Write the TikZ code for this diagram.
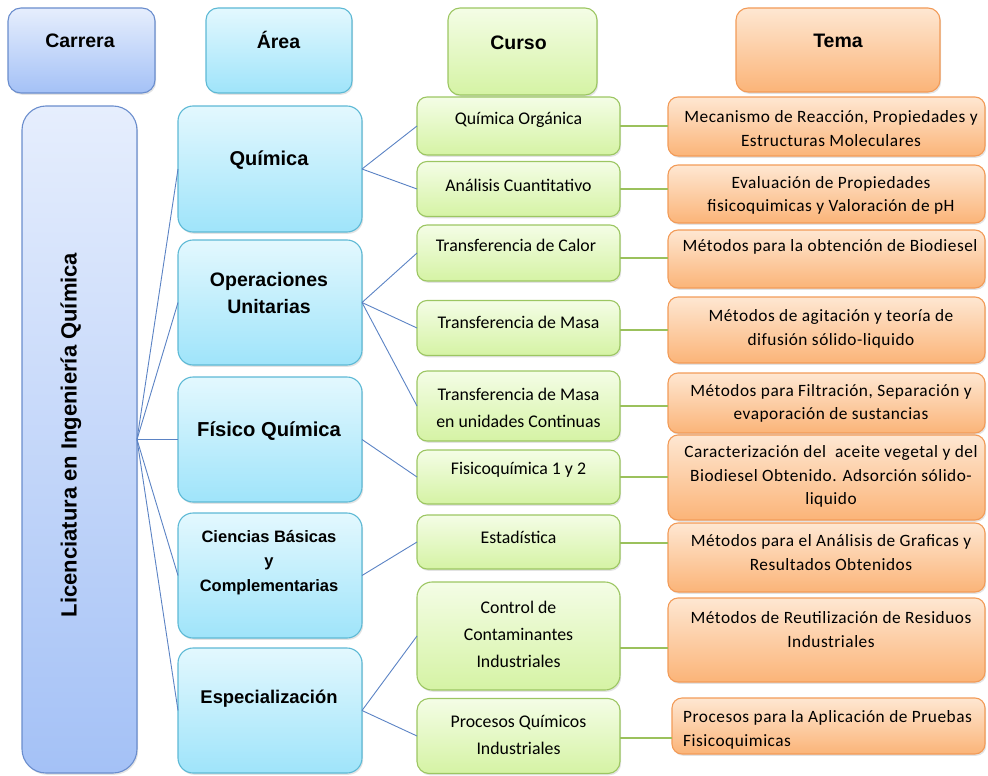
\documentclass[tikz,border=0pt]{standalone}
\usepackage{fontspec}
\setmainfont{Liberation Sans}
\newfontfamily\curfont{Carlito}
\newfontfamily\temfont[LetterSpace=3]{Carlito}
\usetikzlibrary{shadows}
\definecolor{bluetop}{HTML}{E6EEFD}
\definecolor{bluebot}{HTML}{A4C1F6}
\definecolor{blueline}{HTML}{6A8DCD}
\definecolor{cyantop}{HTML}{E3F8FE}
\definecolor{cyanbot}{HTML}{9FE4FA}
\definecolor{cyanline}{HTML}{5DB9D5}
\definecolor{greentop}{HTML}{F4FDE6}
\definecolor{greenbot}{HTML}{D5F3A4}
\definecolor{greenline}{HTML}{9CC662}
\definecolor{orangetop}{HTML}{FEE7D2}
\definecolor{orangebot}{HTML}{FBB478}
\definecolor{orangeline}{HTML}{F29B58}
\definecolor{conblue}{HTML}{5B83C4}
\definecolor{congreen}{HTML}{9BC15C}
\begin{document}
\begin{tikzpicture}[x=1pt,y=-1pt,
  basebox/.style={draw, line width=1.1pt, inner sep=0pt, outer sep=0pt,
    drop shadow={opacity=0.22, shadow xshift=1.2pt, shadow yshift=-1.8pt}},
  bluebox/.style={basebox, rounded corners=13pt, top color=bluetop, bottom color=bluebot, draw=blueline},
  cyanbox/.style={basebox, rounded corners=15pt, top color=cyantop, bottom color=cyanbot, draw=cyanline},
  greenbox/.style={basebox, rounded corners=10pt, top color=greentop, bottom color=greenbot, draw=greenline},
  orangebox/.style={basebox, rounded corners=10pt, top color=orangetop, bottom color=orangebot, draw=orangeline},
  hdrtxt/.style={inner sep=0pt, font=\bfseries\fontsize{19.5}{24}\selectfont},
  areatxt/.style={inner sep=0pt, align=center, font=\bfseries\fontsize{19.5}{27}\selectfont},
  curtxt/.style={inner sep=0pt, align=center, font=\curfont\fontsize{17.8}{27}\selectfont},
  temtxt/.style={inner sep=0pt, align=center, font=\temfont\fontsize{17.3}{23.5}\selectfont},
  bline/.style={draw=conblue, line width=0.9pt},
  gline/.style={draw=congreen, line width=1.6pt}
]
\useasboundingbox (0,0) rectangle (988,776);

% ---------- headers ----------
\node[bluebox, minimum width=147pt, minimum height=85pt] (hC) at (81.5,50.5) {};
\node[cyanbox, rounded corners=12pt, minimum width=146pt, minimum height=85pt] (hA) at (279,50.5) {};
\node[greenbox, rounded corners=12pt, minimum width=149pt, minimum height=87pt] (hCu) at (522.5,51.5) {};
\node[orangebox, rounded corners=12pt, minimum width=204pt, minimum height=84pt] (hT) at (838,50) {};
\node[hdrtxt] (hCt) at (80,41) {Carrera};
\node[hdrtxt] (hAt) at (278.5,40) {Área};
\node[hdrtxt] (hCut) at (518.5,43) {Curso};
\node[hdrtxt] (hTt) at (838,41) {Tema};

% ---------- root ----------
\node[bluebox, rounded corners=24pt, minimum width=115pt, minimum height=667pt] (root) at (79.5,439.5) {};
\node[rotate=90, inner sep=0pt, font=\bfseries\fontsize{22}{26}\selectfont] (roott) at (71,435) {Licenciatura en Ingeniería Química};

% ---------- areas ----------
\node[cyanbox, minimum width=184pt, minimum height=126pt] (a1) at (270,169) {};
\node[cyanbox, minimum width=184pt, minimum height=125pt] (a2) at (270,302.5) {};
\node[cyanbox, minimum width=184pt, minimum height=125pt] (a3) at (270,439.5) {};
\node[cyanbox, minimum width=184pt, minimum height=125pt] (a4) at (270,575.5) {};
\node[cyanbox, minimum width=184pt, minimum height=125pt] (a5) at (270,710.5) {};
\node[areatxt, font=\bfseries\fontsize{20}{27}\selectfont] (a1t) at (269,160) {Química};
\node[areatxt] (a2t) at (269,293.5) {Operaciones\\Unitarias};
\node[areatxt, font=\bfseries\fontsize{20.2}{27}\selectfont] (a3t) at (269,431) {Físico Química};
\node[areatxt, font=\bfseries\fontsize{16.5}{24.5}\selectfont] (a4t) at (269,562.5) {Ciencias Básicas\\y\\Complementarias};
\node[areatxt, font=\bfseries\fontsize{18.4}{27}\selectfont] (a5t) at (269,699) {Especialización};

% ---------- courses ----------
\node[greenbox, minimum width=203pt, minimum height=58pt] (c1) at (518.5,126) {};
\node[greenbox, minimum width=203pt, minimum height=55pt] (c2) at (518.5,189) {};
\node[greenbox, minimum width=203pt, minimum height=56pt] (c3) at (518.5,253) {};
\node[greenbox, minimum width=203pt, minimum height=55pt] (c4) at (518.5,328) {};
\node[greenbox, minimum width=203pt, minimum height=70pt] (c5) at (518.5,406) {};
\node[greenbox, minimum width=203pt, minimum height=54pt] (c6) at (518.5,477) {};
\node[greenbox, minimum width=203pt, minimum height=54pt] (c7) at (518.5,542) {};
\node[greenbox, rounded corners=15pt, minimum width=203pt, minimum height=108pt] (c8) at (518.5,636) {};
\node[greenbox, rounded corners=12pt, minimum width=203pt, minimum height=75pt] (c9) at (518.5,736) {};
\node[curtxt] (c1t) at (518.5,120) {Química Orgánica};
\node[curtxt] (c2t) at (518.5,185) {Análisis Cuantitativo};
\node[curtxt] (c3t) at (516,245) {Transferencia de Calor};
\node[curtxt] (c4t) at (518.5,322) {Transferencia de Masa};
\node[curtxt] (c5t) at (518.5,407.5) {Transferencia de Masa\\en unidades Continuas};
\node[curtxt] (c6t) at (518.5,470) {Fisicoquímica 1 y 2};
\node[curtxt] (c7t) at (518.5,537) {Estadística};
\node[curtxt] (c8t) at (518.5,634) {Control de\\Contaminantes\\Industriales};
\node[curtxt] (c9t) at (518.5,735) {Procesos Químicos\\Industriales};

% ---------- temas ----------
\node[orangebox, minimum width=317pt, minimum height=59pt] (t1) at (826.5,126.5) {};
\node[orangebox, minimum width=317pt, minimum height=58pt] (t2) at (826.5,194) {};
\node[orangebox, minimum width=317pt, minimum height=58pt] (t3) at (826.5,259) {};
\node[orangebox, minimum width=317pt, minimum height=66pt] (t4) at (826.5,330) {};
\node[orangebox, minimum width=317pt, minimum height=60pt] (t5) at (826.5,403) {};
\node[orangebox, minimum width=317pt, minimum height=85pt] (t6) at (826.5,477.5) {};
\node[orangebox, minimum width=317pt, minimum height=69pt] (t7) at (826.5,557.5) {};
\node[orangebox, minimum width=317pt, minimum height=84pt] (t8) at (826.5,640) {};
\node[orangebox, minimum width=313pt, minimum height=56pt] (t9) at (828.5,726) {};
\node[temtxt] (t1t) at (831,128.5) {Mecanismo de Reacción, Propiedades y\\Estructuras Moleculares};
\node[temtxt] (t2t) at (831,195.5) {Evaluación de Propiedades\\fisicoquimicas y Valoración de pH};
\node[temtxt] (t3t) at (830,247) {Métodos para la obtención de Biodiesel};
\node[temtxt] (t4t) at (831,329) {Métodos de agitación y teoría de\\difusión sólido-liquido};
\node[temtxt] (t5t) at (831,403.5) {Métodos para Filtración, Separación y\\evaporación de sustancias};
\node[temtxt] (t6t) at (831,476.5) {Caracterización del \ aceite vegetal y del\\Biodiesel Obtenido. Adsorción sólido-\\liquido};
\node[temtxt] (t7t) at (831,552.5) {Métodos para el Análisis de Graficas y\\Resultados Obtenidos};
\node[temtxt] (t8t) at (831,629.5) {Métodos de Reutilización de Residuos\\Industriales};
\node[temtxt, align=left, anchor=west] (t9t) at (683,730) {Procesos para la Aplicación de Pruebas\\Fisicoquimicas};

% ---------- connectors: root -> areas ----------
\foreach \a in {a1,a2,a3,a4,a5} \draw[bline] (root.east) -- (\a.west);

% ---------- areas -> courses ----------
\draw[bline] (a1.east) -- (c1.west);
\draw[bline] (a1.east) -- (c2.west);
\draw[bline] (a2.east) -- (c3.west);
\draw[bline] (a2.east) -- (c4.west);
\draw[bline] (a2.east) -- (c5.west);
\draw[bline] (a3.east) -- (c6.west);
\draw[bline] (a4.east) -- (c7.west);
\draw[bline] (a5.east) -- (c8.west);
\draw[bline] (a5.east) -- (c9.west);

% ---------- courses -> temas ----------
\path (c3.east) ++(0,5) coordinate (g3);
\path (c4.east) ++(0,2) coordinate (g4);
\path (c7.east) ++(0,1) coordinate (g7);
\path (c8.east) ++(0,12) coordinate (g8);
\path (c9.east) ++(0,2) coordinate (g9);
\draw[gline] (c1.east) -- (c1.east -| t1.west);
\draw[gline] (c2.east) -- (c2.east -| t2.west);
\draw[gline] (g3) -- (g3 -| t3.west);
\draw[gline] (g4) -- (g4 -| t4.west);
\draw[gline] (c5.east) -- (c5.east -| t5.west);
\draw[gline] (c6.east) -- (c6.east -| t6.west);
\draw[gline] (g7) -- (g7 -| t7.west);
\draw[gline] (g8) -- (g8 -| t8.west);
\draw[gline] (g9) -- (g9 -| t9.west);
\end{tikzpicture}
\end{document}
